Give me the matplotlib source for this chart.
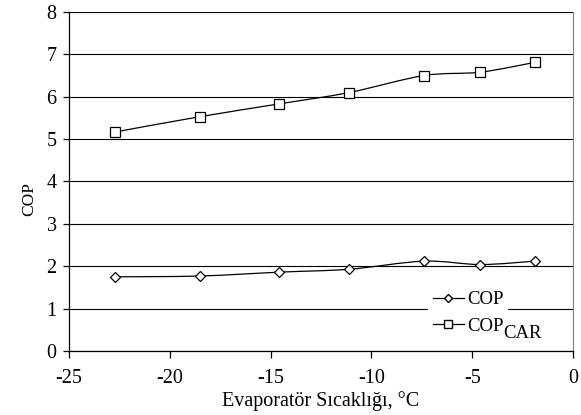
import numpy as np
import matplotlib
matplotlib.use('Agg')
import matplotlib.pyplot as plt
from matplotlib.path import Path
from matplotlib.patches import PathPatch
from matplotlib.lines import Line2D

plt.rcParams['font.family'] = 'Liberation Serif'
plt.rcParams['font.size'] = 14.5
plt.rcParams['axes.unicode_minus'] = False

# values
evap_temp = [-22.7, -18.5, -14.6, -11.1, -7.4, -4.6, -1.9]
cop = [1.75, 1.77, 1.86, 1.93, 2.12, 2.04, 2.12]
cop_car = [5.17, 5.53, 5.83, 6.10, 6.50, 6.58, 6.81]
x_ticks = [-25, -20, -15, -10, -5, 0]
y_ticks = [0, 1, 2, 3, 4, 5, 6, 7, 8]


def smooth_path(xs, ys):
    # Excel-style smoothed line: Catmull-Rom segments drawn as cubic beziers
    pts = np.column_stack([xs, ys])
    n = len(pts)
    verts = [pts[0]]
    codes = [Path.MOVETO]
    for i in range(n - 1):
        p0 = pts[max(i - 1, 0)]
        p1 = pts[i]
        p2 = pts[i + 1]
        p3 = pts[min(i + 2, n - 1)]
        c1 = p1 + (p2 - p0) / 6.0
        c2 = p2 - (p3 - p1) / 6.0
        verts += [c1, c2, p2]
        codes += [Path.CURVE4] * 3
    return Path(verts, codes)


fig = plt.figure(figsize=(5.81, 4.15), dpi=100)
ax = fig.add_axes([69 / 581, 64 / 415, 504 / 581, 339 / 415])

for ys, mk in [(cop, 'D'), (cop_car, 's')]:
    ax.add_patch(PathPatch(smooth_path(evap_temp, ys), facecolor='none',
                           edgecolor='black', lw=0.9, zorder=3))
    ax.plot(evap_temp, ys, linestyle='none', marker=mk,
            markersize=6.5 if mk == 's' else 5.5, markerfacecolor='white',
            markeredgecolor='black', markeredgewidth=0.9, zorder=4)

ax.set_xlim(-25, 0)
ax.set_ylim(0, 8)
ax.set_xticks(x_ticks)
ax.set_yticks(y_ticks)
ax.yaxis.grid(True, color='black', lw=0.8)
ax.set_axisbelow(True)
ax.spines['top'].set_visible(False)
ax.spines['right'].set_color('#808080')
ax.spines['left'].set_linewidth(0.9)
ax.spines['bottom'].set_linewidth(0.9)
ax.tick_params(axis='x', direction='out', length=5, width=0.9, pad=8)
ax.tick_params(axis='y', direction='out', length=4, width=0.9, pad=5)

ax.set_xlabel('Evaporatör Sıcaklığı, °C', labelpad=2)
ax.set_ylabel('COP', fontsize=12.5)
ax.yaxis.set_label_coords(-0.063, 0.448)

handles = [
    Line2D([], [], color='black', lw=0.9, marker='D', markersize=4.5,
           markerfacecolor='white', markeredgecolor='black'),
    Line2D([], [], color='black', lw=0.9, marker='s', markersize=5.5,
           markerfacecolor='white', markeredgecolor='black'),
]
leg = ax.legend(handles, ['COP', 'COP'], loc='upper left', fontsize=13.5,
                bbox_to_anchor=(0.712, 0.19), frameon=True, fancybox=False,
                edgecolor='none', framealpha=1, handlelength=1.7,
                handletextpad=0.15, labelspacing=0.5, borderpad=0.25,
                borderaxespad=0)
# subscript CAR sits after the second label, same size, shifted down
ax.annotate('CAR', xy=(1.0, 0.6), xycoords=leg.get_texts()[1],
            ha='left', va='top', fontsize=13.5, zorder=6)

fig.savefig('out.png', dpi=100)
